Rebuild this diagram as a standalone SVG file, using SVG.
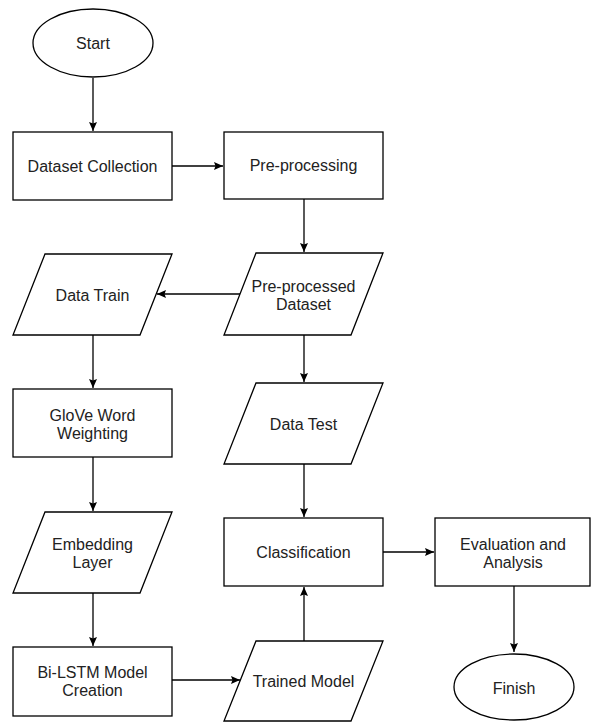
<svg xmlns="http://www.w3.org/2000/svg" width="591" height="722" viewBox="0 0 591 722">
<style>
.s{fill:#fff;stroke:#000;stroke-width:1.3}
.t{font-family:"Liberation Sans",Arial,sans-serif;font-size:16px;fill:#222;text-anchor:middle}
.c{fill:none;stroke:#000;stroke-width:1.3}
</style>
<defs>
<marker id="a" markerUnits="userSpaceOnUse" markerWidth="10" markerHeight="10" refX="9" refY="4" orient="auto">
<path d="M0,0 L9,4 L0,8 L1.5,4 z" fill="#000"/>
</marker>
</defs>
<rect width="591" height="722" fill="#fff"/>
<g id="connectors">
<path class="c" d="M93,78 V131" marker-end="url(#a)"/>
<path class="c" d="M172,166 H223" marker-end="url(#a)"/>
<path class="c" d="M304,199 V252" marker-end="url(#a)"/>
<path class="c" d="M240,294 H157" marker-end="url(#a)"/>
<path class="c" d="M93,335 V388" marker-end="url(#a)"/>
<path class="c" d="M304,335 V382" marker-end="url(#a)"/>
<path class="c" d="M93,457 V511" marker-end="url(#a)"/>
<path class="c" d="M304,464 V517" marker-end="url(#a)"/>
<path class="c" d="M383,552 H434" marker-end="url(#a)"/>
<path class="c" d="M93,593 V646" marker-end="url(#a)"/>
<path class="c" d="M514,586 V652" marker-end="url(#a)"/>
<path class="c" d="M172,680 H240" marker-end="url(#a)"/>
<path class="c" d="M304,641 V587" marker-end="url(#a)"/>
</g>
<g id="start"><ellipse class="s" cx="93" cy="43" rx="60" ry="34"/><text class="t" x="93" y="49">Start</text></g>
<g id="dataset-collection"><rect class="s" x="13" y="132" width="159" height="68"/><text class="t" x="92.5" y="172">Dataset Collection</text></g>
<g id="pre-processing"><rect class="s" x="224" y="132" width="159" height="67"/><text class="t" x="303.5" y="171">Pre-processing</text></g>
<g id="pre-processed-dataset"><polygon class="s" points="256,253 383,253 351,335 224,335"/><text class="t" x="303.5" y="292">Pre-processed</text><text class="t" x="303.5" y="310">Dataset</text></g>
<g id="data-train"><polygon class="s" points="45,254 172,254 140,335 13,335"/><text class="t" x="92.5" y="301">Data Train</text></g>
<g id="glove"><rect class="s" x="13" y="389" width="159" height="68"/><text class="t" x="92.5" y="421">GloVe Word</text><text class="t" x="92.5" y="439">Weighting</text></g>
<g id="data-test"><polygon class="s" points="256,383 383,383 351,464 224,464"/><text class="t" x="303.5" y="430">Data Test</text></g>
<g id="embedding-layer"><polygon class="s" points="45,512 172,512 140,593 13,593"/><text class="t" x="92.5" y="550">Embedding</text><text class="t" x="92.5" y="568">Layer</text></g>
<g id="classification"><rect class="s" x="224" y="518" width="159" height="68"/><text class="t" x="303.5" y="558">Classification</text></g>
<g id="evaluation"><rect class="s" x="435" y="518" width="155" height="68"/><text class="t" x="513" y="550">Evaluation and</text><text class="t" x="513" y="568">Analysis</text></g>
<g id="bi-lstm"><rect class="s" x="13" y="647" width="159" height="69"/><text class="t" x="92.5" y="678">Bi-LSTM Model</text><text class="t" x="92.5" y="696">Creation</text></g>
<g id="trained-model"><polygon class="s" points="256,641 383,641 351,721 224,721"/><text class="t" x="303.5" y="687">Trained Model</text></g>
<g id="finish"><ellipse class="s" cx="514" cy="687" rx="60" ry="33"/><text class="t" x="514" y="694">Finish</text></g>
</svg>
